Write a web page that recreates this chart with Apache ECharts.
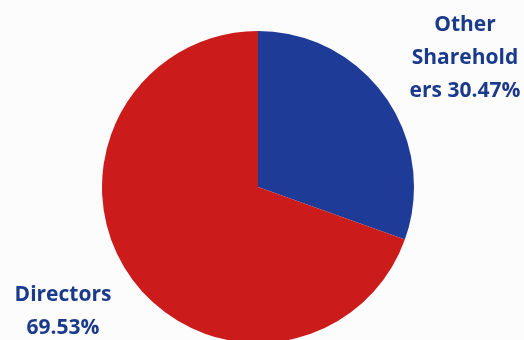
<!DOCTYPE html>
<html>
<head>
<meta charset="utf-8">
<script src="https://cdn.jsdelivr.net/npm/echarts@6/dist/echarts.min.js"></script>
<style>
  html, body { margin: 0; padding: 0; background: #fdfcfd; }
  #main { width: 524px; height: 340px; }
</style>
</head>
<body>
<div id="main"></div>
<script>
var names = ['Other Shareholders', 'Directors'];
var values = [30.47, 69.53];
var colors = ['#1f3b98', '#cc1b1b'];
// label text, broken the way the reference wraps it
var labelLines = [['Other', 'Sharehold', 'ers '], ['Directors', '']];
var labelPos = [[465, 58], [63, 312]];

var chart = echarts.init(document.getElementById('main'));

var data = names.map(function (n, i) {
    return { name: n, value: values[i], itemStyle: { color: colors[i] } };
});

chart.setOption({
    backgroundColor: '#fdfcfd',
    animation: false,
    series: [{
        type: 'pie',
        center: [258, 187],
        radius: 156,
        startAngle: 90,
        clockwise: true,
        data: data,
        label: {
            show: true,
            color: '#1a3a8c',
            fontFamily: 'Open Sans',
            fontWeight: 'bold',
            fontSize: 21,
            lineHeight: 33,
            align: 'center',
            overflow: 'none',
            formatter: function (p) {
                var l = labelLines[p.dataIndex].slice();
                l[l.length - 1] += p.value.toFixed(2) + '%';
                return l.join('\n');
            }
        },
        labelLine: { show: false },
        labelLayout: function (p) {
            var pos = labelPos[p.dataIndex];
            return { x: pos[0], y: pos[1], align: 'center', verticalAlign: 'middle' };
        }
    }]
});
</script>
</body>
</html>
